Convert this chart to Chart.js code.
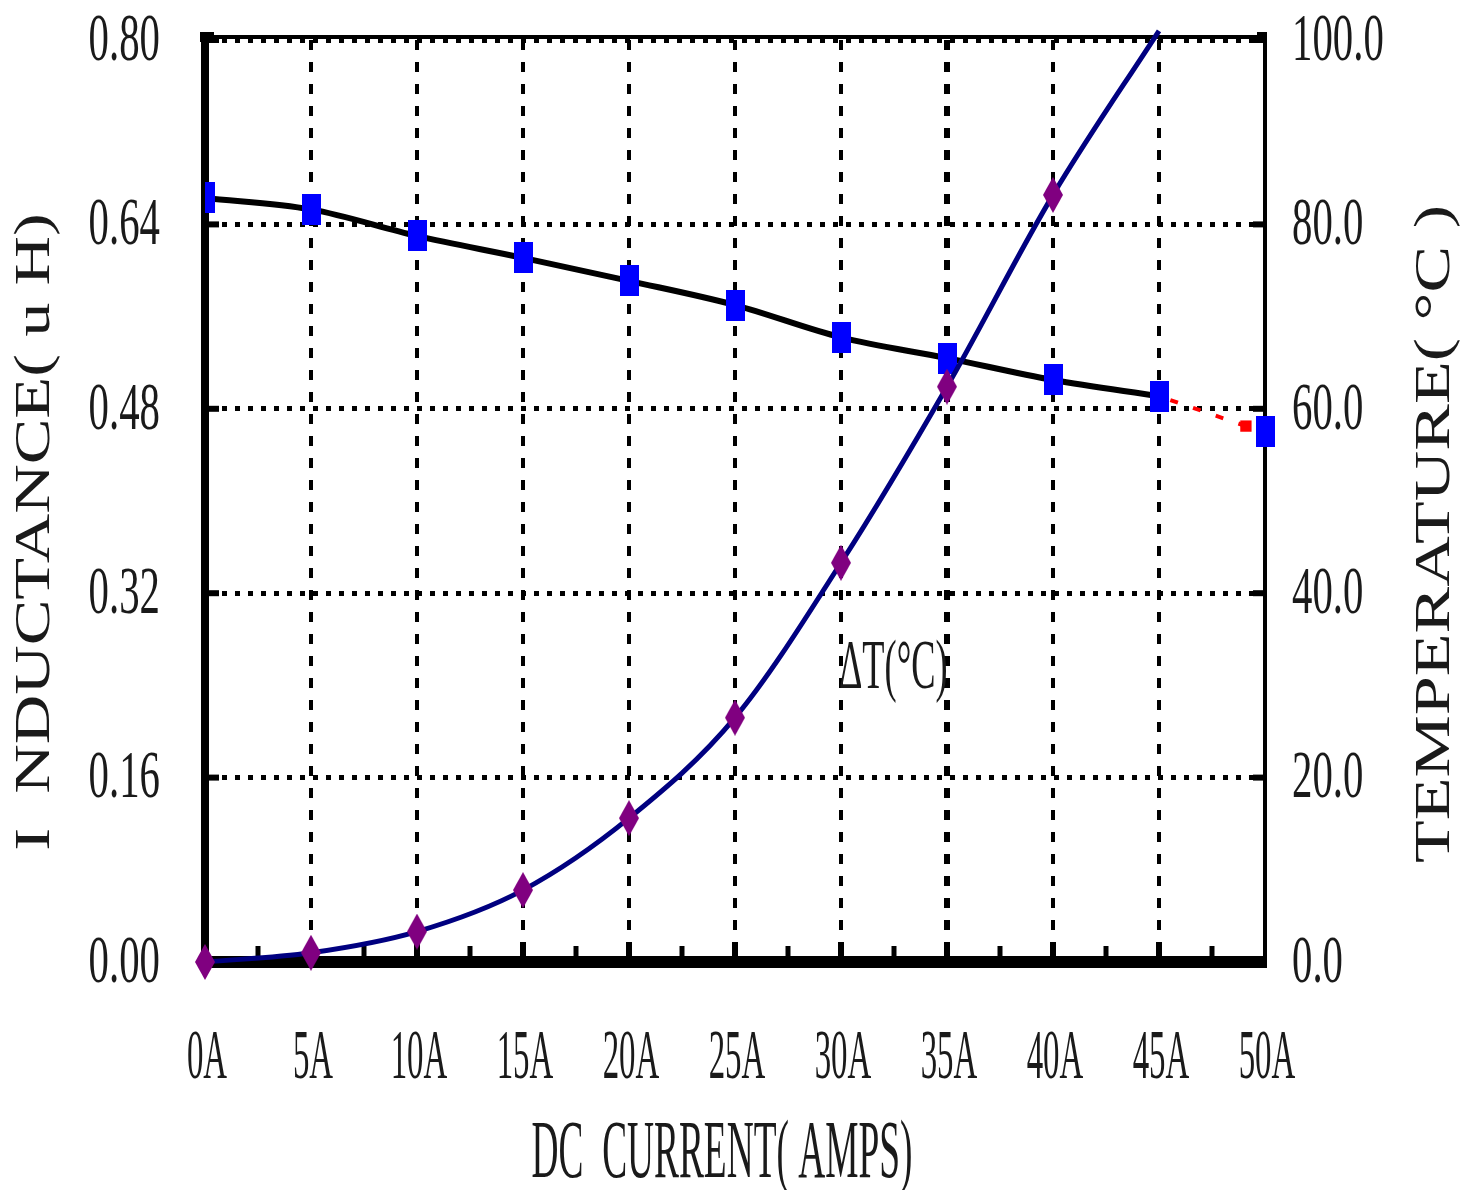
<!DOCTYPE html>
<html>
<head>
<meta charset="utf-8">
<title>Inductance / Temperature vs DC Current</title>
<script src="https://cdn.jsdelivr.net/npm/chart.js@4.4.1/dist/chart.umd.min.js"></script>
<style>
  html, body { margin: 0; padding: 0; background: #fff; }
  #wrap { width: 1460px; height: 1190px; }
</style>
</head>
<body>
<div id="wrap"><canvas id="chart" width="1460" height="1190"></canvas></div>
<script>
// data
const currents = [0, 5, 10, 15, 20, 25, 30, 35, 40, 45];
const inductance = [0.663, 0.653, 0.630, 0.611, 0.591, 0.570, 0.542, 0.524, 0.505, 0.491];
const lastCurrent = [50];
const lastInductance = [0.460];
const extraCurrent = [45, 49.1];
const extraInductance = [0.491, 0.465];
const temperature = [0, 1.0, 3.3, 7.8, 15.6, 26.5, 43.3, 62.4, 83.2, 101];

const xTicks = [0, 5, 10, 15, 20, 25, 30, 35, 40, 45, 50];
const yTicks = [0, 0.16, 0.32, 0.48, 0.64, 0.80];
const y2Ticks = [0, 20, 40, 60, 80, 100];

const xTitle = 'DC  CURRENT( AMPS)';
const yTitle = 'I  NDUCTANCE( u H)';
const y2Title = 'TEMPERATURE( \u00B0C )';
const noteText = '\u0394T(\u00B0C)';
const notePos = [29.9, 31.7];

const FONT = '"Liberation Serif", "Times New Roman", serif';
const TEXT = '#1a1a1a';

function makeMarker(w, h, color, shape) {
  const c = document.createElement('canvas');
  c.width = w; c.height = h;
  const g = c.getContext('2d');
  g.fillStyle = color;
  if (shape === 'diamond') {
    g.beginPath();
    g.moveTo(w / 2, 0); g.lineTo(w, h / 2); g.lineTo(w / 2, h); g.lineTo(0, h / 2);
    g.closePath();
    g.fill();
  } else {
    g.fillRect(0, 0, w, h);
  }
  return c;
}

const squareImg = makeMarker(19, 31, '#0000ff', 'rect');
const diamondImg = makeMarker(20, 36, '#800080', 'diamond');

function toPoints(xs, ys) {
  return xs.map((x, i) => ({ x: x, y: ys[i] }));
}

// squeezed serif text, the source picture is heavily condensed
function drawText(ctx, text, x, y, size, sx, sy, align, rot) {
  ctx.save();
  ctx.translate(x, y);
  if (rot) ctx.rotate(rot);
  ctx.scale(sx, sy);
  ctx.font = size + 'px ' + FONT;
  ctx.fillStyle = TEXT;
  ctx.textAlign = align;
  ctx.textBaseline = 'middle';
  ctx.fillText(text, 0, 0);
  ctx.restore();
}

const framePlugin = {
  id: 'frame',
  beforeDatasetsDraw(chart) {
    const { ctx, chartArea: a, scales } = chart;
    ctx.save();
    ctx.strokeStyle = '#000';
    ctx.fillStyle = '#000';
    // top line sits just above the dotted 0.80 grid line
    ctx.lineWidth = 4;
    ctx.beginPath();
    ctx.moveTo(a.left, a.top - 3);
    ctx.lineTo(a.right, a.top - 3);
    ctx.stroke();
    // corner blobs
    ctx.fillRect(a.left - 5, a.top - 8, 14, 10);
    ctx.fillRect(a.right - 8, a.top - 8, 10, 10);
    // inward ticks on the left axis
    ctx.lineWidth = 6;
    scales.y.ticks.forEach(t => {
      const py = scales.y.getPixelForValue(t.value);
      ctx.beginPath(); ctx.moveTo(a.left, py); ctx.lineTo(a.left + 14, py); ctx.stroke();
    });
    // inward ticks on the right axis
    scales.y2.ticks.forEach(t => {
      const py = scales.y2.getPixelForValue(t.value);
      ctx.beginPath(); ctx.moveTo(a.right, py); ctx.lineTo(a.right - 12, py); ctx.stroke();
    });
    // bottom ticks, major and minor
    scales.x.ticks.forEach(t => {
      [t.value, t.value + 2.5].forEach((v, k) => {
        if (v <= 0 || v >= 50) return;
        const px = scales.x.getPixelForValue(v);
        ctx.lineWidth = k === 0 ? 6 : 5;
        ctx.beginPath(); ctx.moveTo(px, a.bottom); ctx.lineTo(px, a.bottom - (k === 0 ? 20 : 16)); ctx.stroke();
      });
    });
    ctx.restore();
  },
  afterDraw(chart) {
    const { ctx, scales } = chart;
    scales.y.ticks.forEach(t => {
      drawText(ctx, t.label, 160, scales.y.getPixelForValue(t.value) + 2, 68, 0.6, 1, 'right');
    });
    scales.y2.ticks.forEach(t => {
      drawText(ctx, t.label, 1292, scales.y2.getPixelForValue(t.value) + 2, 68, 0.6, 1, 'left');
    });
    scales.x.ticks.forEach(t => {
      drawText(ctx, t.label, scales.x.getPixelForValue(t.value) + 2, 1060, 70, 0.47, 1, 'center');
    });
    drawText(ctx, xTitle, 722, 1155, 83, 0.45, 1, 'center');
    drawText(ctx, yTitle, 36, 532, 50, 1.37, 1, 'center', -Math.PI / 2);
    drawText(ctx, y2Title, 1436, 534, 50, 1.40, 1, 'center', -Math.PI / 2);
    drawText(ctx, noteText, scales.x.getPixelForValue(notePos[0]), scales.y2.getPixelForValue(notePos[1]), 70, 0.52, 1, 'left');
  }
};

new Chart(document.getElementById('chart'), {
  type: 'line',
  data: {
    datasets: [
      {
        label: 'Temperature',
        data: toPoints(currents, temperature),
        yAxisID: 'y2',
        borderColor: '#000080',
        borderWidth: 5,
        cubicInterpolationMode: 'monotone',
        pointStyle: diamondImg,
        pointRadius: temperature.map((v, i) => i === temperature.length - 1 ? 0 : 5),
        clip: false,
        order: 1
      },
      {
        label: 'Inductance',
        data: toPoints(currents, inductance),
        yAxisID: 'y',
        borderColor: '#000',
        borderWidth: 6,
        cubicInterpolationMode: 'monotone',
        pointStyle: squareImg,
        pointRadius: 5,
        order: 2
      },
      {
        label: 'Inductance 50A',
        data: toPoints(lastCurrent, lastInductance),
        yAxisID: 'y',
        showLine: false,
        pointStyle: squareImg,
        pointRadius: 5,
        clip: false,
        order: 0
      },
      {
        label: 'Extrapolated',
        data: toPoints(extraCurrent, extraInductance),
        yAxisID: 'y',
        borderColor: '#ff0000',
        borderWidth: 4,
        borderDash: [8, 16],
        borderDashOffset: -12,
        pointStyle: 'rect',
        pointRadius: [0, 8],
        pointBackgroundColor: '#ff0000',
        pointBorderWidth: 0,
        order: 3
      }
    ]
  },
  options: {
    responsive: false,
    animation: false,
    devicePixelRatio: 1,
    layout: { padding: { left: 205, right: 195, top: 40, bottom: 228 } },
    plugins: { legend: { display: false }, tooltip: { enabled: false } },
    elements: { line: { fill: false } },
    scales: {
      x: {
        type: 'linear',
        min: 0, max: 50,
        afterBuildTicks: s => { s.ticks = xTicks.map(v => ({ value: v })); },
        ticks: { display: false, callback: v => v + 'A' },
        grid: {
          drawTicks: false,
          color: c => (c.tick && (c.tick.value === 0 || c.tick.value === 50)) ? 'rgba(0,0,0,0)' : '#000',
          lineWidth: c => (c.tick && c.tick.value === 35) ? 6 : 4
        },
        border: { display: true, color: '#000', width: 12, dash: [10, 12] }
      },
      y: {
        position: 'left',
        min: 0, max: 0.8,
        afterBuildTicks: s => { s.ticks = yTicks.map(v => ({ value: v })); },
        ticks: { display: false, callback: v => v.toFixed(2) },
        grid: {
          drawTicks: false,
          color: c => (c.tick && c.tick.value === 0) ? 'rgba(0,0,0,0)' : '#000',
          lineWidth: 5
        },
        border: { display: true, color: '#000', width: 8, dash: [5, 8] }
      },
      y2: {
        position: 'right',
        min: 0, max: 100,
        afterBuildTicks: s => { s.ticks = y2Ticks.map(v => ({ value: v })); },
        ticks: { display: false, callback: v => v.toFixed(1) },
        grid: { display: false, drawTicks: false },
        border: { display: true, color: '#000', width: 4 }
      }
    }
  },
  plugins: [framePlugin]
});
</script>
</body>
</html>
